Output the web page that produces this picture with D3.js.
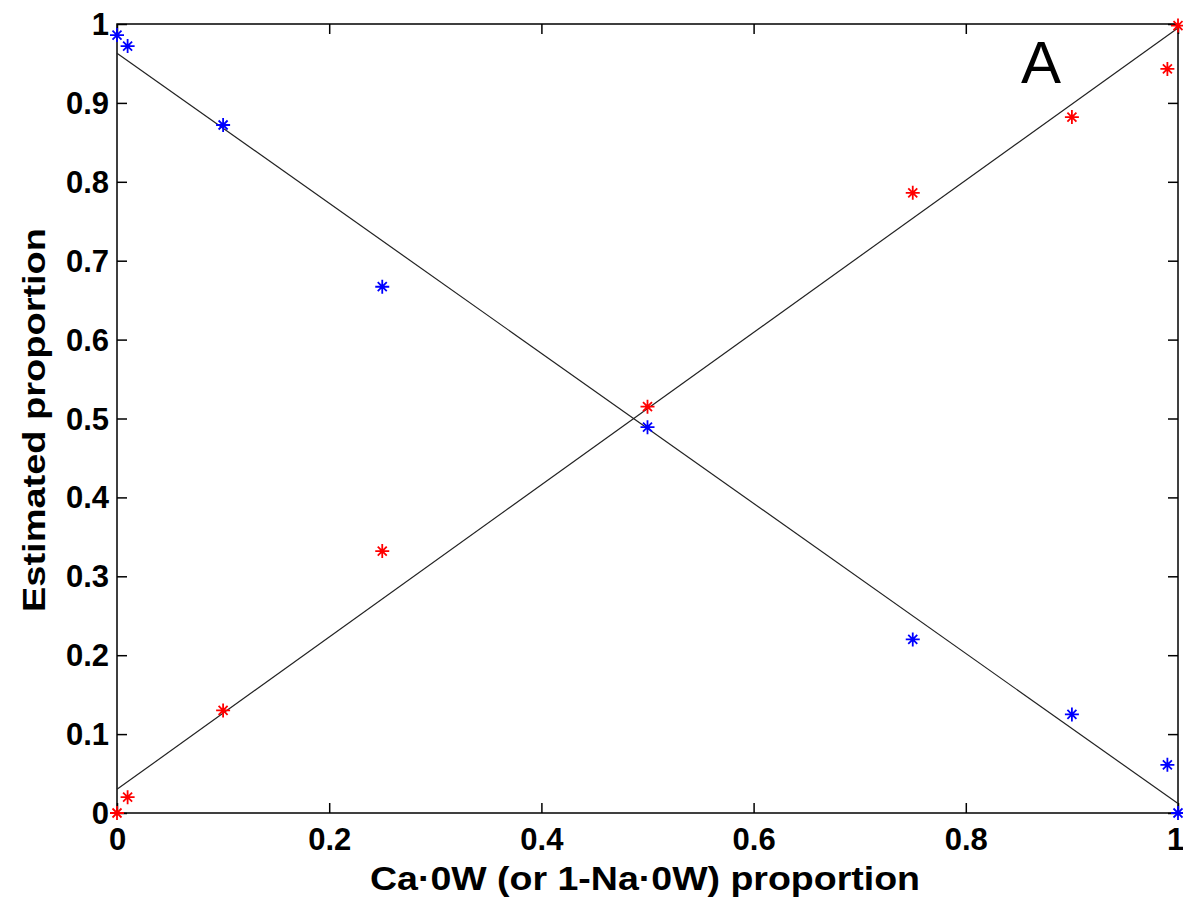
<!DOCTYPE html>
<html><head><meta charset="utf-8">
<script src="https://cdn.jsdelivr.net/npm/d3@7"></script>
<style>body{margin:0;background:#fff}svg{display:block}</style>
</head><body>
<svg id="c" width="1183" height="899"></svg>
<script>
const xValues = [0, 0.01, 0.1, 0.25, 0.5, 0.75, 0.9, 0.99, 1.0];
const redValues = [0.0, 0.02, 0.13, 0.332, 0.515, 0.786, 0.882, 0.943, 0.998];
const blueValues = [0.986, 0.972, 0.872, 0.667, 0.489, 0.22, 0.125, 0.061, 0.0];
const redFit = [[0, 0.03], [1, 0.995]];
const blueFit = [[0, 0.963], [1, 0.012]];
const xTicks = [0, 0.2, 0.4, 0.6, 0.8, 1];
const yTicks = [0, 0.1, 0.2, 0.3, 0.4, 0.5, 0.6, 0.7, 0.8, 0.9, 1];

const svg = d3.select("#c");
const L = 117, R = 1178, T = 24, B = 813;
const x = d3.scaleLinear().domain([0, 1]).range([L, R]);
const y = d3.scaleLinear().domain([0, 1]).range([B, T]);
const font = "'Liberation Sans', Arial, Helvetica, sans-serif";
const fmt = d => d === 0 ? "0" : d === 1 ? "1" : String(d);

// box
svg.append("rect").attr("x", L).attr("y", T).attr("width", R - L).attr("height", B - T)
  .attr("fill", "none").attr("stroke", "#000").attr("stroke-width", 1.5);

// axes with inward ticks
const tl = 10;
const gB = svg.append("g").attr("transform", `translate(0,${B})`)
  .call(d3.axisBottom(x).tickValues(xTicks).tickSize(-tl).tickPadding(15).tickFormat(fmt));
const gT = svg.append("g").attr("transform", `translate(0,${T})`)
  .call(d3.axisTop(x).tickValues(xTicks).tickSize(-tl).tickFormat(""));
const gL = svg.append("g").attr("transform", `translate(${L},0)`)
  .call(d3.axisLeft(y).tickValues(yTicks).tickSize(-tl).tickPadding(8).tickFormat(fmt));
const gR = svg.append("g").attr("transform", `translate(${R},0)`)
  .call(d3.axisRight(y).tickValues(yTicks).tickSize(-tl).tickFormat(""));
[gB, gT, gL, gR].forEach(g => {
  g.select(".domain").remove();
  g.selectAll(".tick line").attr("stroke", "#000").attr("stroke-width", 1.5);
  g.selectAll("text").attr("font-family", font).attr("font-size", 31).attr("font-weight", "bold").attr("fill", "#000");
});
gB.selectAll("text").attr("dy", "0.71em");
gB.selectAll("text").filter(d => d === 1).attr("dx", -3);
gL.selectAll("text").attr("dy", "0.34em");

// fit lines
const line = d3.line().x(d => x(d[0])).y(d => y(d[1]));
[redFit, blueFit].forEach(f => {
  svg.append("path").attr("d", line(f)).attr("fill", "none").attr("stroke", "#222").attr("stroke-width", 1.2);
});

// asterisk markers
function star(g, px, py, color) {
  const a = 7, b = 4.5;
  const p = `M${px - a},${py}L${px + a},${py}M${px},${py - a}L${px},${py + a}` +
    `M${px - b},${py - b}L${px + b},${py + b}M${px - b},${py + b}L${px + b},${py - b}`;
  g.append("path").attr("d", p).attr("stroke", color).attr("stroke-width", 1.8).attr("fill", "none");
}
const gm = svg.append("g");
xValues.forEach((xv, i) => star(gm, x(xv), y(blueValues[i]), "#0000ff"));
xValues.forEach((xv, i) => star(gm, x(xv), y(redValues[i]), "#ff0000"));

// labels
svg.append("text").attr("x", 645).attr("y", 890).attr("text-anchor", "middle")
  .attr("font-family", font).attr("font-size", 33).attr("font-weight", "bold")
  .attr("textLength", 550).attr("lengthAdjust", "spacingAndGlyphs")
  .text("Ca·0W (or 1-Na·0W) proportion");
svg.append("text").attr("transform", `translate(45,420) rotate(-90)`).attr("text-anchor", "middle")
  .attr("font-family", font).attr("font-size", 32).attr("font-weight", "bold")
  .attr("textLength", 384).attr("lengthAdjust", "spacingAndGlyphs")
  .text("Estimated proportion");
svg.append("text").attr("x", 1041).attr("y", 83).attr("text-anchor", "middle")
  .attr("font-family", font).attr("font-size", 60).text("A");
</script>
</body></html>
